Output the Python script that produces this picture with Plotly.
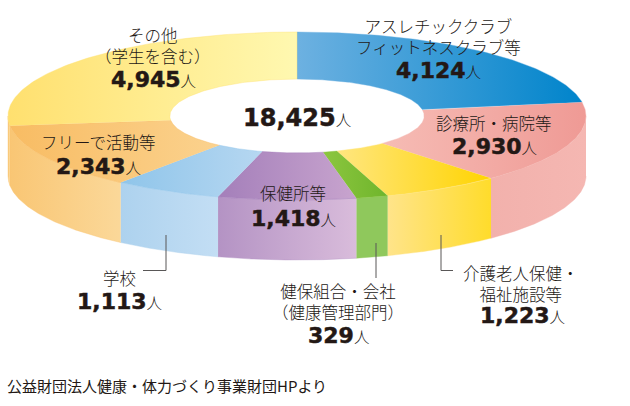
import numpy as np
import plotly.graph_objects as go

# データ
categories = ['アスレチッククラブ<br>フィットネスクラブ等', '診療所・病院等', '介護老人保健・<br>福祉施設等',
              '健保組合・会社<br>（健康管理部門）', '保健所等', '学校', 'フリーで活動等', 'その他<br>（学生を含む）']
values = [4124, 2930, 1223, 329, 1418, 1113, 2343, 4945]

top_left = ['#6DB1E1', '#F6BCB5', '#FFE680', '#8CC63F', '#A47FBA', '#8FC5EA', '#F8BC63', '#FFE06F']
top_right = ['#0084CB', '#EF9A95', '#FFD400', '#6FB52C', '#C8A4CE', '#B6D7F1', '#FBD28E', '#FFF8B0']
wall_left = ['#F2B1AC', '#F2B1AC', '#FFE48A', '#8FC85C', '#B493C4', '#ADD2EE', '#F9C674', '#F9C674']
wall_right = ['#F5B7B2', '#F5B7B2', '#FFDC2B', '#8FC85C', '#D9BCDB', '#C3DEF4', '#FBD899', '#FBD899']

label_pos = [(438.5, 36), (494, 123), (520.5, 283), (338, 301.5), (293, 193), (119, 278), (98, 142), (153, 45.5)]
value_pos = [(438, 70), (494, 146), (522, 315), (338, 335), (293, 218), (119, 301), (98, 166), (153, 79)]

W, H = 630, 406
CX, CY = 297, 116  # 楕円の中心 px
RX, RY = 289, 84   # 楕円の半径 px
HOLE = 0.44
DEPTH = 60 / RY

JP = 'Noto Sans CJK JP'
NUM = 'DejaVu Sans'


def arc(t0, t1, r=1.0, dy=0.0):
    t = np.linspace(t0, t1, 100)
    return r * np.sin(t), r * np.cos(t) + dy


def add_patch(fig, x, y, c0, c1):
    fig.add_trace(go.Scatter(
        x=x, y=y, mode='lines', fill='toself',
        line=dict(width=0.4, color=c0),
        fillgradient=dict(type='horizontal', colorscale=[[0, c0], [1, c1]]),
        hoverinfo='skip', showlegend=False,
    ))


def note(text, x, y, size=16.5, family=JP, weight=300):
    fig.add_annotation(
        text=text, x=x / W, y=1 - y / H, xref='paper', yref='paper',
        xanchor='center', yanchor='middle', showarrow=False, borderpad=0,
        font=dict(family=family, size=size, color='#231815', weight=weight),
    )


def value_text(v, size=22):
    return (f'<span style="font-family:{NUM};font-weight:bold;font-size:{size}px;'
            f'stroke:#231815;stroke-width:0.5px">{v:,}</span>'
            '<span style="font-size:15.5px">人</span>')


fig = go.Figure()

edges = np.cumsum([0] + values) / sum(values) * 2 * np.pi

# 側面 (手前側のみ)
for i in range(len(values)):
    t0, t1 = max(edges[i], np.pi / 2), min(edges[i + 1], 3 * np.pi / 2)
    if t0 >= t1:
        continue
    xa, ya = arc(t0, t1)
    xb, yb = arc(t1, t0, dy=-DEPTH)
    add_patch(fig, np.r_[xa, xb], np.r_[ya, yb], wall_left[i], wall_right[i])

# 上面
for i in range(len(values)):
    xa, ya = arc(edges[i], edges[i + 1])
    xb, yb = arc(edges[i + 1], edges[i], r=HOLE)
    add_patch(fig, np.r_[xa, xb], np.r_[ya, yb], top_left[i], top_right[i])

# ラベル
for text, (x, y) in zip(categories, label_pos):
    note(text, x, y)
for v, (x, y) in zip(values, value_pos):
    note(value_text(v), x, y)
note(value_text(sum(values), size=24), 297, 118)
note('公益財団法人健康・体力づくり事業財団HPより', 166.5, 385, size=15, weight=400)

# 引き出し線
leaders = [
    [(166, 235), (166, 270.5), (143, 270.5)],
    [(376, 243), (376, 278)],
    [(441, 235), (441, 270.5), (453, 270.5)],
]
for pts in leaders:
    for (x0, y0), (x1, y1) in zip(pts, pts[1:]):
        fig.add_shape(type='line', xref='paper', yref='paper',
                      x0=x0 / W, y0=1 - y0 / H, x1=x1 / W, y1=1 - y1 / H,
                      line=dict(color='#595757', width=1))

fig.update_layout(
    width=W, height=H,
    margin=dict(l=0, r=0, t=0, b=0),
    paper_bgcolor='white', plot_bgcolor='white',
    xaxis=dict(visible=False, range=[-CX / RX, (W - CX) / RX]),
    yaxis=dict(visible=False, range=[(CY - H) / RY, CY / RY]),
)

fig.write_html("out.html", config=dict(displayModeBar=False),
               post_script="document.body.style.margin='0';")
